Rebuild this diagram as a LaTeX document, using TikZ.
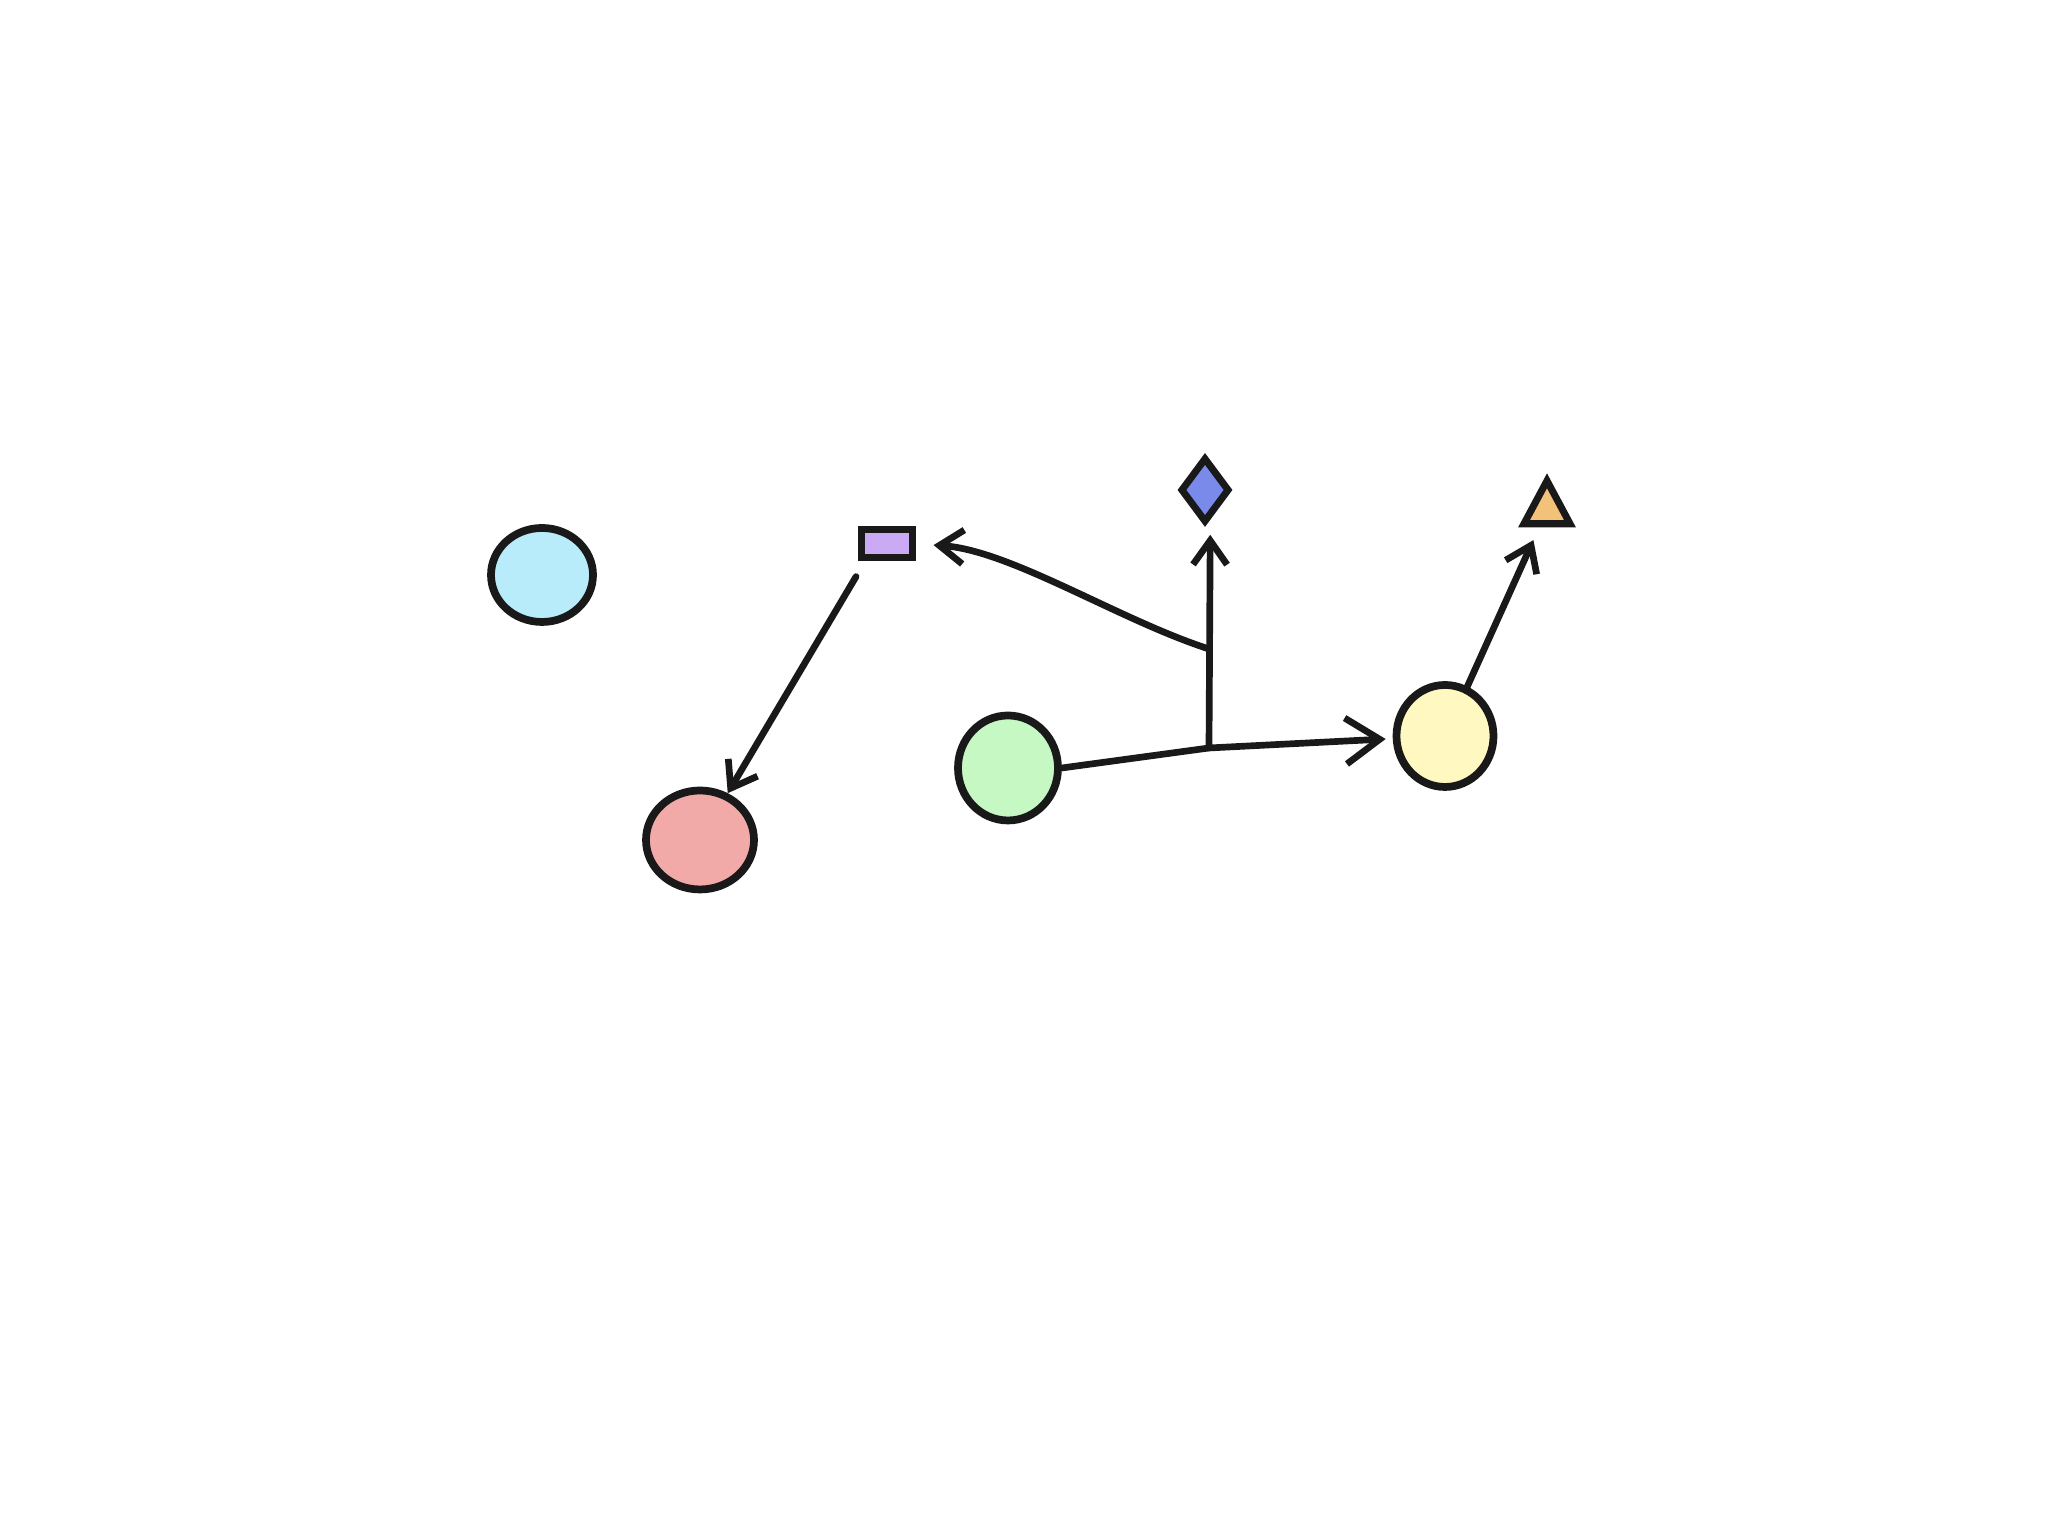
\documentclass[tikz,border=0pt]{standalone}
\usepackage{tikz}
\usetikzlibrary{arrows.meta, shapes.geometric}
\definecolor{ink}{RGB}{25,25,25}
\definecolor{blobcyan}{RGB}{184,236,250}
\definecolor{blobred}{RGB}{242,170,168}
\definecolor{blobgreen}{RGB}{198,248,196}
\definecolor{blobyellow}{RGB}{255,248,192}
\definecolor{boxpurple}{RGB}{202,170,245}
\definecolor{gemblue}{RGB}{122,138,235}
\definecolor{triorange}{RGB}{242,194,122}

\begin{document}
\begin{tikzpicture}[
    blob/.style={draw=ink, line width=2.2pt, ellipse, inner sep=0pt},
    mark shape/.style={draw=ink, line width=2pt, inner sep=0pt},
    link/.style={draw=ink, line width=1.9pt, line cap=round},
    barb/.style={-{Straight Barb[length=2.4mm, width=3.4mm]}}
]
    \useasboundingbox (0,0) rectangle (20.48,15.36);

    % Blobs
    \node[blob, fill=blobcyan, minimum width=1.02cm, minimum height=0.94cm] (cyan) at (5.42,9.61) {};
    \node[blob, fill=blobred, minimum width=1.08cm, minimum height=0.99cm] (red) at (7.00,6.96) {};
    \node[blob, fill=blobgreen, minimum width=1.00cm, minimum height=1.05cm] (green) at (10.08,7.68) {};
    \node[blob, fill=blobyellow, minimum width=0.97cm, minimum height=1.02cm] (yellow) at (14.45,8.00) {};

    % Small shapes
    \node[mark shape, fill=boxpurple, minimum width=0.51cm, minimum height=0.28cm] (box) at (8.87,9.92) {};
    \node[mark shape, diamond, fill=gemblue, minimum width=0.49cm, minimum height=0.65cm] (gem) at (12.05,10.46) {};
    \node[mark shape, isosceles triangle, isosceles triangle stretches, shape border rotate=90,
          fill=triorange, minimum width=0.46cm, minimum height=0.43cm] (tri) at (15.47,10.26) {};

    % Branch points
    \coordinate (fork) at (12.09,7.88);
    \coordinate (split) at (12.09,8.87);

    % Arrows
    \draw[link, -{Straight Barb[length=3.4mm, width=4.6mm]}, shorten >=2pt] (green.east) -- (fork) -- (yellow);
    \draw[link, barb, shorten >=2.5pt] (fork) -- ([xshift=1.5pt]gem.south);
    \draw[link, barb, shorten >=5pt] (split) .. controls (11.19,9.16) and (10.10,9.86) .. (box.east);
    \draw[link, barb, shorten <=5pt] ([xshift=-0.22cm]box.south) -- (red);
    \draw[link, barb, shorten >=4pt] (yellow) -- (tri);
\end{tikzpicture}
\end{document}
